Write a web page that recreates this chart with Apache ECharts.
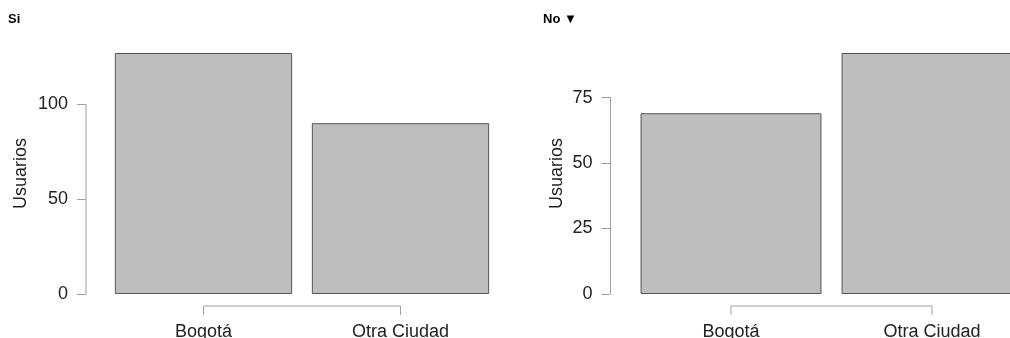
<!DOCTYPE html>
<html>
<head>
<meta charset="utf-8">
<script src="https://cdn.jsdelivr.net/npm/echarts@6/dist/echarts.min.js"></script>
<style>
  html, body { margin: 0; padding: 0; background: #fff; overflow: hidden; }
  #chart { width: 1040px; height: 338px; }
</style>
</head>
<body>
<div id="chart"></div>
<script>
// Users per city, split by answer
const categories = ['Bogotá', 'Otra Ciudad'];
const siValues = [127, 90];
const noValues = [69, 92];
const siTicks = [0, 50, 100];
const noTicks = [0, 25, 50, 75];
const panelTitles = ['Si', 'No ▼'];
const yName = 'Usuarios';

const FONT = '"Liberation Sans", Arial, sans-serif';
const AXIS_GREY = '#a0a0a0';
const TEXT = '#222';

// panel layout (pixels); the second panel runs past the right edge of the view
const panels = [
  { left: 105, width: 394, titleLeft: 3, yOffset: 19, nameGap: 56, values: siValues, ticks: siTicks },
  { left: 630.5, width: 402, titleLeft: 538, yOffset: 20, nameGap: 44, values: noValues, ticks: noTicks }
];
const gridTop = 53, gridBottom = 44, xOffset = 12, tickLen = 9;

const option = {
  animation: false,
  backgroundColor: '#fff',
  title: panels.map((p, i) => ({
    text: panelTitles[i],
    left: p.titleLeft, top: 8,
    textStyle: { fontFamily: FONT, fontSize: 13, fontWeight: 'bold', color: '#000' }
  })),
  grid: panels.map(p => ({
    left: p.left, width: p.width, top: gridTop, bottom: gridBottom,
    containLabel: false, outerBoundsMode: 'none'
  })),
  xAxis: panels.map((p, i) => ({
    type: 'category', gridIndex: i, data: categories,
    offset: xOffset,
    axisLine: { show: false },
    axisTick: { show: false },
    axisLabel: { margin: 17, fontFamily: FONT, fontSize: 18, color: TEXT }
  })),
  yAxis: panels.map((p, i) => ({
    type: 'value', gridIndex: i, min: 0, max: Math.max(...p.values),
    offset: p.yOffset,
    name: yName, nameLocation: 'middle', nameGap: p.nameGap, nameRotate: 90,
    nameTextStyle: { fontFamily: FONT, fontSize: 18, color: TEXT },
    splitLine: { show: false },
    axisLine: { show: false },
    axisTick: { show: true, length: tickLen, customValues: p.ticks, lineStyle: { color: AXIS_GREY } },
    axisLabel: { margin: 18, customValues: p.ticks, fontFamily: FONT, fontSize: 18, color: TEXT }
  })),
  series: panels.map((p, i) => ({
    type: 'bar', xAxisIndex: i, yAxisIndex: i, data: p.values,
    barCategoryGap: '10%',
    itemStyle: { color: '#bebebe', borderColor: '#555', borderWidth: 1 }
  }))
};

const chart = echarts.init(document.getElementById('chart'), null, { renderer: 'canvas' });
chart.setOption(option);

// R-style axes: the y line spans first..last tick, the x line joins the two category ticks
const graphics = [];
const seg = (x1, y1, x2, y2) => ({
  type: 'line', silent: true,
  shape: { x1: x1, y1: y1, x2: x2, y2: y2 },
  style: { stroke: AXIS_GREY, lineWidth: 1 }
});
panels.forEach((p, i) => {
  const yTop = chart.convertToPixel({ yAxisIndex: i }, p.ticks[p.ticks.length - 1]);
  const yBot = chart.convertToPixel({ yAxisIndex: i }, p.ticks[0]);
  const ax = p.left - p.yOffset;
  graphics.push(seg(ax, yTop, ax, yBot));
  const ay = yBot + xOffset;
  const xs = categories.map(c => chart.convertToPixel({ xAxisIndex: i }, c));
  graphics.push(seg(xs[0], ay, xs[xs.length - 1], ay));
  xs.forEach(x => graphics.push(seg(x, ay, x, ay + tickLen)));
});
chart.setOption({ graphic: graphics });
</script>
</body>
</html>
